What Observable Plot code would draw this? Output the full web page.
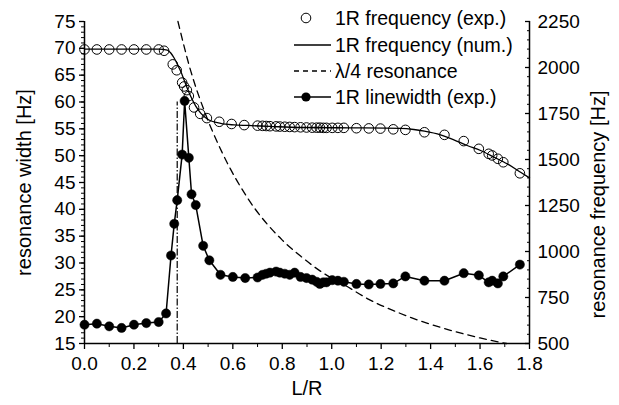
<!DOCTYPE html>
<html><head><meta charset="utf-8">
<script src="https://cdn.jsdelivr.net/npm/d3@7"></script>
<script src="https://cdn.jsdelivr.net/npm/@observablehq/plot@0.6"></script>
<style>
body{margin:0;background:#fff;}
#chart svg{font-family:"Liberation Sans",Arial,sans-serif;}
</style></head><body><div id="chart"></div>
<script>
// 1R frequency (exp.) — open circles, right axis [Hz]
const freqExpX = [0,0.05,0.1,0.15,0.2,0.25,0.3,0.322,0.357,0.373,0.395,0.403,0.414,0.422,0.443,0.468,0.495,0.545,0.595,0.646,0.7,0.72,0.735,0.75,0.775,0.79,0.81,0.83,0.85,0.874,0.898,0.921,0.939,0.952,0.966,0.979,1.002,1.025,1.049,1.1,1.15,1.197,1.249,1.298,1.375,1.456,1.534,1.595,1.635,1.649,1.672,1.694,1.761];
const freqExpY = [2098,2098,2098,2098,2098,2098,2098,2091,2017,1985,1918,1897,1877,1845,1783,1748,1725,1705,1693,1687,1684,1683,1682,1681,1680,1679,1678,1677,1676,1675,1674,1673,1673,1673,1672,1672,1672,1672,1672,1670,1669,1668,1664,1661,1648,1634,1600,1558,1531,1522,1504,1485,1425];
// 1R frequency (num.) — solid line, right axis [Hz]
const freqNumX = [0,0.3,0.335,0.349,0.362,0.376,0.389,0.403,0.416,0.43,0.45,0.47,0.497,0.551,0.605,0.66,0.75,0.874,1.076,1.278,1.332,1.375,1.44,1.494,1.548,1.602,1.656,1.71,1.764,1.8];
const freqNumY = [2100,2100,2095,2079,2053,2017,1979,1932,1886,1842,1790,1752,1720,1696,1688,1685,1680,1674,1672,1669,1663,1654,1634,1607,1576,1549,1513,1476,1431,1400];
// lambda/4 resonance — dashed, right axis [Hz]
const quarterX = [0.378,0.43,0.484,0.556,0.66,0.8,0.874,0.96,1.049,1.15,1.278,1.48,1.6,1.707];
const quarterY = [2250,1980,1766,1540,1290,1062,975,888,820,740,663,572,530,500];
// 1R linewidth (exp.) — filled dots, left axis [Hz]
const widthX = [0,0.05,0.1,0.15,0.2,0.25,0.3,0.33,0.35,0.363,0.375,0.395,0.405,0.422,0.433,0.45,0.48,0.505,0.55,0.6,0.65,0.7,0.72,0.735,0.75,0.775,0.79,0.81,0.83,0.85,0.874,0.898,0.921,0.939,0.952,0.966,0.979,1.002,1.025,1.049,1.1,1.15,1.197,1.249,1.298,1.375,1.456,1.534,1.595,1.635,1.649,1.672,1.694,1.761];
const widthY = [18.5,18.7,18.2,17.9,18.5,18.8,19.0,20.6,31.4,37.3,41.7,50.2,60.2,49.6,42.8,40.8,33.2,30.5,27.8,27.4,27.2,27.3,27.8,28.0,28.2,28.4,28.2,28.0,27.8,28.2,27.4,27.2,26.9,26.5,26.1,26.4,26.4,26.8,26.7,26.5,26.1,26.0,26.1,26.2,27.5,26.7,26.7,28.1,27.7,26.4,26.7,26.2,27.5,29.7];
// vertical dash-dot marker
const cutoffX = [0.375];
const cutoffTop = 60;

// axes
const xDomain = [0, 1.8];
const xTicks = [0,0.2,0.4,0.6,0.8,1.0,1.2,1.4,1.6,1.8];
const xMinorTicks = [0.1,0.3,0.5,0.7,0.9,1.1,1.3,1.5,1.7];
const widthDomain = [15, 75];
const widthTicks = [15,20,25,30,35,40,45,50,55,60,65,70,75];
const freqDomain = [500, 2250];
const freqTicks = [500,750,1000,1250,1500,1750,2000,2250];

const legendLabels = ["1R frequency (exp.)","1R frequency (num.)","\u03BB/4 resonance","1R linewidth (exp.)"];

// map right-axis frequency onto the left (width) scale
const toW = f => widthDomain[0] + (f - freqDomain[0]) * (widthDomain[1]-widthDomain[0]) / (freqDomain[1]-freqDomain[0]);
const fromW = w => freqDomain[0] + (w - widthDomain[0]) * (freqDomain[1]-freqDomain[0]) / (widthDomain[1]-widthDomain[0]);

const freqExp = freqExpX.map((x,i)=>({x, y: toW(freqExpY[i])}));
const freqNum = freqNumX.map((x,i)=>({x, y: toW(freqNumY[i])}));
const quarter = quarterX.map((x,i)=>({x, y: toW(quarterY[i])}));
const width = widthX.map((x,i)=>({x, y: widthY[i]}));

const widthMinor = d3.range(widthDomain[0], widthDomain[1] + 0.5, 1);
const freqMinor = d3.range(freqDomain[0], freqDomain[1] + 1, 50).map(toW);

const svg = Plot.plot({
  width: 619, height: 405,
  marginLeft: 84, marginRight: 90, marginTop: 21, marginBottom: 62,
  style: {fontFamily: "'Liberation Sans', Arial, sans-serif", fontSize: "19px", background: "#fff", color: "#000", overflow: "visible"},
  x: {domain: xDomain},
  y: {domain: widthDomain},
  marks: [
    Plot.axisX({ticks: xMinorTicks, tickSize: 4, tickFormat: () => "", label: null}),
    Plot.axisX({ticks: xTicks, tickSize: 6, tickPadding: 7, tickFormat: d3.format(".1f"), label: null, strokeWidth: 1.3}),
    Plot.axisY({anchor: "left", ticks: widthMinor, tickSize: 3, tickFormat: () => "", label: null}),
    Plot.axisY({anchor: "left", ticks: widthTicks, tickSize: 5, tickPadding: 4, label: null, strokeWidth: 1.3}),
    Plot.axisY({anchor: "right", ticks: freqMinor, tickSize: -3, tickFormat: () => "", label: null}),
    Plot.axisY({anchor: "right", ticks: freqTicks.map(toW), tickSize: -5, tickPadding: 13, tickFormat: w => String(Math.round(fromW(w))), label: null, strokeWidth: 1.3}),
    Plot.ruleX(xDomain, {strokeWidth: 1.5}),
    Plot.ruleY([widthDomain[0]], {strokeWidth: 1.5}),
    Plot.ruleX(cutoffX, {y1: widthDomain[0], y2: cutoffTop, strokeWidth: 1.2, strokeDasharray: "7,2,1.5,2"}),
    Plot.line(quarter, {x: "x", y: "y", stroke: "black", strokeWidth: 1.3, strokeDasharray: "7,5", curve: "monotone-x"}),
    Plot.line(freqNum, {x: "x", y: "y", stroke: "black", strokeWidth: 1.3, curve: "monotone-x"}),
    Plot.dot(freqExp, {x: "x", y: "y", r: 4.8, stroke: "black", strokeWidth: 1, fill: "none"}),
    Plot.line(width, {x: "x", y: "y", stroke: "black", strokeWidth: 1.5}),
    Plot.dot(width, {x: "x", y: "y", r: 4.6, fill: "black", stroke: "black", strokeWidth: 0.5}),
    Plot.text(["resonance width [Hz]"], {frameAnchor: "left", textAnchor: "middle", dx: -60, rotate: -90, fontSize: 20}),
    Plot.text(["resonance frequency [Hz]"], {frameAnchor: "right", textAnchor: "middle", dx: 69, dy: 22, rotate: -90, fontSize: 20}),
    Plot.text(["L/R"], {frameAnchor: "bottom", dy: 51, fontSize: 20})
  ]
});

// legend (inside the plot, top right)
const lg = d3.select(svg).append("g")
  .attr("font-family", "'Liberation Sans', Arial, sans-serif")
  .attr("font-size", 19.5)
  .attr("text-anchor", "start");
const rowY = [18, 45, 71, 97];
const sx0 = 294, sx1 = 331, sxm = 306, tx = 335;
legendLabels.forEach((t, i) => {
  const y = rowY[i];
  if (i === 0) lg.append("circle").attr("cx", sxm).attr("cy", y).attr("r", 4.8).attr("fill", "none").attr("stroke", "black");
  if (i === 1) lg.append("line").attr("x1", sx0).attr("x2", sx1).attr("y1", y).attr("y2", y).attr("stroke", "black").attr("stroke-width", 1.3);
  if (i === 2) lg.append("line").attr("x1", sx0).attr("x2", sx1).attr("y1", y).attr("y2", y).attr("stroke", "black").attr("stroke-width", 1.3).attr("stroke-dasharray", "5,4");
  if (i === 3) {
    lg.append("line").attr("x1", sx0).attr("x2", sx1).attr("y1", y).attr("y2", y).attr("stroke", "black").attr("stroke-width", 1.5);
    lg.append("circle").attr("cx", sxm).attr("cy", y).attr("r", 4.6).attr("fill", "black");
  }
  lg.append("text").attr("x", tx).attr("y", y).attr("dy", "0.35em").attr("text-anchor", "start").attr("fill", "black").text(t);
});

document.getElementById("chart").appendChild(svg);
</script>
</body></html>
